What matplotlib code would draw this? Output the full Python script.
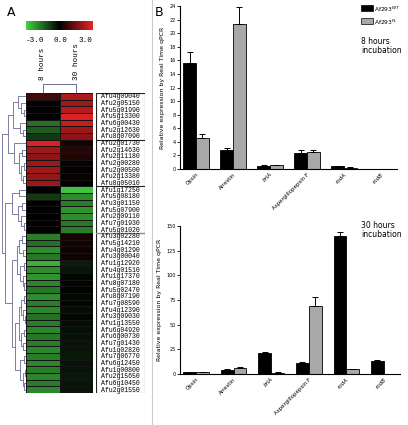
import matplotlib
matplotlib.use("Agg")
import matplotlib.pyplot as plt
import numpy as np
from matplotlib.colors import LinearSegmentedColormap
from matplotlib.lines import Line2D

# ---------------- Panel A data ----------------
genes = [
    "Afu4g09040", "Afu2g05150", "Afu5g01990", "Afu5g13300", "Afu6g00430", "Afu2g12630", "Afu8g07090",
    "Afu2g01730", "Afu2g14630", "Afu2g11180", "Afu2g00280", "Afu2g00500", "Afu2g13380", "Afu8g05010",
    "Afu1g17250", "Afu5g08180", "Afu3g01150", "Afu5g07900", "Afu2g09110", "Afu7g01930", "Afu5g01020",
    "Afu3g02280", "Afu5g14210", "Afu4g01290", "Afu3g00040", "Afu1g12920", "Afu4g01510", "Afu1g17370",
    "Afu8g07180", "Afu5g02470", "Afu8g07190", "Afu7g08590", "Afu4g12390", "Afu3g09030", "Afu1g13550",
    "Afu6g04920", "Afu6g00730", "Afu7g01430", "Afu1g02820", "Afu7g06770", "Afu6g12450", "Afu1g00800",
    "Afu2g15650", "Afu6g10450", "Afu2g01550",
]
expr_8h = [
    0.8, 0.1, 0.0, 0.0, -1.6, -1.3, -0.8,
    2.8, 2.0, 1.8, 2.0, 2.0, 1.9, 2.0,
    0.0, -0.8, 0.0, 0.0, 0.0, 0.05, 0.0,
    -1.8, -1.6, -2.0, -1.7, -2.5, -2.0, -2.1,
    -1.9, -1.7, -2.0, -1.8, -1.9, -1.6, -1.8,
    -1.9, -1.7, -1.8, -1.9, -1.8, -1.9, -1.8,
    -1.9, -1.8, -1.9,
]
expr_30h = [
    2.2, 2.0, 2.3, 2.8, 2.5, 2.0, 1.8,
    0.3, 0.5, 0.4, 0.1, 0.0, 0.1, 0.0,
    -2.8, -2.0, -1.8, -2.1, -2.0, -1.7, -1.8,
    0.3, 0.3, 0.2, 0.2, -0.4, -0.3, -0.1,
    -0.05, 0.0, -0.1, -0.1, -0.2, -0.1, -0.2,
    -0.2, -0.25, -0.3, -0.3, -0.35, -0.3, -0.3,
    -0.35, -0.3, -0.3,
]
group_edges = [0, 7, 14, 21, 45]
col_labels = ["8 hours", "30 hours"]

# row dendrogram: (height, left, right), leaves are row indices
g1 = (0.55, (0.35, 0, (0.2, 1, (0.1, 2, 3))), (0.25, 4, (0.12, 5, 6)))
g2 = (0.5, 7, (0.3, (0.15, 8, 9), (0.2, (0.1, 10, 11), (0.12, 12, 13))))
g3 = (0.6, (0.3, 14, 15), (0.35, (0.15, 16, 17), (0.2, 18, (0.1, 19, 20))))
g4a = (0.3, (0.15, 21, 22), (0.12, 23, 24))
g4b = (0.25, (0.1, 25, 26), (0.14, 27, (0.07, 28, 29)))
g4c = (0.22, (0.1, 30, 31), (0.12, 32, (0.06, 33, 34)))
g4d = (0.2, (0.09, 35, 36), (0.11, 37, 38))
g4e = (0.24, (0.1, 39, 40), (0.13, (0.06, 41, 42), (0.08, 43, 44)))
g4 = (0.6, (0.4, g4a, g4b), (0.45, (0.3, g4c, g4d), g4e))
row_tree = (1.0, (0.75, g1, g2), (0.88, g3, g4))

# ---------------- Panel B data ----------------
categories = ["Opsin", "Arrestin", "brlA", "Aspergillopepsin F", "rodA", "rodB"]
italic_cats = ["brlA", "rodA", "rodB"]
wt_8h = [15.6, 2.75, 0.45, 2.4, 0.4, 0.05]
wt_8h_err = [1.7, 0.3, 0.1, 0.35, 0.05, 0.0]
fl_8h = [4.6, 21.4, 0.55, 2.55, 0.2, 0.05]
fl_8h_err = [0.6, 2.4, 0.05, 0.2, 0.03, 0.0]
wt_30h = [1.8, 4.5, 21.5, 11.0, 140.0, 13.5]
wt_30h_err = [0.3, 0.5, 1.0, 0.8, 4.0, 0.6]
fl_30h = [1.8, 6.5, 1.5, 69.0, 5.0, 0.0]
fl_30h_err = [0.3, 0.5, 0.3, 9.0, 0.5, 0.0]

W, H = 408, 425
fig = plt.figure(figsize=(W / 100, H / 100), dpi=100)


def box(x0, y0, x1, y1):
    # pixel box (top-left origin) -> figure fraction rect
    return [x0 / W, 1 - y1 / H, (x1 - x0) / W, (y1 - y0) / H]


cmap = LinearSegmentedColormap.from_list("gbr", ["#45d145", "#000000", "#ec2226"])
dend_color = "#6a6a96"
mono = "Liberation Mono"

# colour scale
ax_cb = fig.add_axes(box(26, 21, 93, 30))
ax_cb.imshow(np.linspace(-3, 3, 256)[None, :], cmap=cmap, aspect="auto", vmin=-3, vmax=3)
ax_cb.axis("off")
for v, xp in zip([-3.0, 0.0, 3.0], [35, 60, 85]):
    fig.text(xp / W, 1 - 40 / H, f"{v:.1f}", ha="center", va="center",
             fontsize=5.5, family=mono)

# heatmap
ax_h = fig.add_axes(box(26, 93, 93, 393))
data = np.column_stack([expr_8h, expr_30h])
ax_h.pcolormesh(data, cmap=cmap, vmin=-3, vmax=3, edgecolors="#151515", linewidth=0.5)
ax_h.set_xlim(0, 2)
ax_h.set_ylim(len(genes), 0)
ax_h.axis("off")

# column labels
for i, lab in enumerate(col_labels):
    fig.text((26 + 67 * (i + 0.5) / 2) / W, 1 - 80 / H, lab, rotation=90,
             ha="center", va="bottom", fontsize=5.5, family=mono)

# column dendrogram
ax_cd = fig.add_axes(box(26, 84, 93, 93))
ax_cd.plot([0.5, 0.5, 1.5, 1.5], [0, 1, 1, 0], color=dend_color, lw=0.7)
ax_cd.set_xlim(0, 2)
ax_cd.set_ylim(0, 1.05)
ax_cd.axis("off")

# row dendrogram
ax_rd = fig.add_axes(box(2, 93, 26, 393))


def draw_tree(ax, node):
    if isinstance(node, int):
        return node + 0.5, 0.0
    h, left, right = node
    y1, h1 = draw_tree(ax, left)
    y2, h2 = draw_tree(ax, right)
    ax.plot([h1, h, h, h2], [y1, y1, y2, y2], color=dend_color, lw=0.6)
    return (y1 + y2) / 2, h


draw_tree(ax_rd, row_tree)
ax_rd.set_xlim(1.02, 0)
ax_rd.set_ylim(len(genes), 0)
ax_rd.axis("off")

# gene labels in boxes
ax_l = fig.add_axes(box(96, 93, 145, 393))
ax_l.set_xlim(0, 1)
ax_l.set_ylim(len(genes), 0)
ax_l.axis("off")
for i, g in enumerate(genes):
    ax_l.text(0.5, i + 0.55, g, ha="center", va="center", fontsize=4.7,
              family=mono)
ax_l.add_patch(plt.Rectangle((0, 0), 1, len(genes), fill=False, ec="#222222", lw=0.8))
for k, e in enumerate(group_edges[1:-1]):
    col = "#888888" if k == 2 else "#222222"
    ax_l.plot([0, 1], [e, e], color=col, lw=1.0 if k == 2 else 0.8)

# panel letters and divider
fig.text(7 / W, 1 - 12 / H, "A", fontsize=9, va="center")
fig.text(155 / W, 1 - 12 / H, "B", fontsize=9, va="center")
fig.add_artist(Line2D([152 / W, 152 / W], [0, 1], color="#cccccc", lw=0.8))

# ---------------- Panel B bars ----------------
x = np.arange(len(categories))
bw = 0.34


def bar_panel(ax, wt, wt_err, fl, fl_err, ymax, step):
    ax.bar(x - bw / 2, wt, bw, color="black", edgecolor="black", lw=0.6,
           yerr=[np.zeros(len(wt)), wt_err], error_kw=dict(lw=0.7, capsize=2, capthick=0.7))
    ax.bar(x + bw / 2, fl, bw, color="#a8a8a8", edgecolor="black", lw=0.6,
           yerr=[np.zeros(len(fl)), fl_err], error_kw=dict(lw=0.7, capsize=2, capthick=0.7))
    ax.set_xlim(-0.43, 5.43)
    ax.set_ylim(0, ymax)
    ax.set_yticks(np.arange(0, ymax + 1, step))
    ax.spines[["top", "right"]].set_visible(False)
    ax.spines[["left", "bottom"]].set_linewidth(0.8)
    ax.tick_params(axis="y", labelsize=3.5, length=2, width=0.6, pad=1)
    ax.tick_params(axis="x", length=0, pad=2)
    ax.set_xticks(x)
    ax.set_xticklabels(categories, rotation=45, ha="right", rotation_mode="anchor", fontsize=4)
    for t in ax.get_xticklabels():
        if t.get_text() in italic_cats:
            t.set_style("italic")
    ax.set_ylabel("Relative expression by Real Time qPCR", fontsize=4.5, labelpad=3)


ax1 = fig.add_axes(box(180, 6, 397, 169))
bar_panel(ax1, wt_8h, wt_8h_err, fl_8h, fl_8h_err, 24, 2)
ax2 = fig.add_axes(box(180, 226, 400, 374))
bar_panel(ax2, wt_30h, wt_30h_err, fl_30h, fl_30h_err, 150, 25)

# legend
leg_items = [("black", "Af293$^{WT}$"), ("#a8a8a8", "Af293$^{FL}$")]
for k, (c, lab) in enumerate(leg_items):
    yy = 5 + k * 13
    fig.add_artist(plt.Rectangle((361 / W, 1 - (yy + 6) / H), 12 / W, 6 / H,
                                 facecolor=c, edgecolor="black", lw=0.5))
    fig.text(374 / W, 1 - (yy + 4) / H, lab, fontsize=4.2, va="center")

fig.text(361 / W, 1 - 46 / H, "8 hours\nincubation", fontsize=5.5, va="center",
         linespacing=1.1)
fig.text(361 / W, 1 - 230 / H, "30 hours\nincubation", fontsize=5.5, va="center",
         linespacing=1.1)

fig.savefig("out.png", dpi=100)
